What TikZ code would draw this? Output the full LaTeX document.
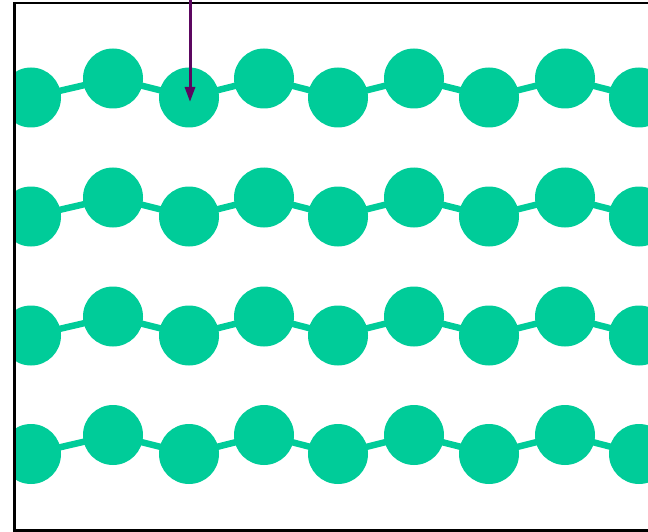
\documentclass[tikz,border=0pt]{standalone}
\usetikzlibrary{arrows.meta}
\definecolor{bead}{RGB}{0,204,153}
\definecolor{pointer}{RGB}{92,6,96}
\tikzset{
  beadnode/.style={circle,fill=bead,draw=none,minimum size=60pt,inner sep=0pt},
  link/.style={draw=bead,line width=6.5pt,shorten <=-1pt,shorten >=-1pt},
  frame/.style={draw=black,line width=2.7pt},
  pointerarrow/.style={draw=pointer,line width=3pt,-{Triangle[length=15pt,width=10pt]}}
}
\begin{document}
\begin{tikzpicture}[x=1pt,y=-1pt]
\useasboundingbox (0,0) rectangle (648,532);
\begin{scope}
\clip (15.5,0) rectangle (648,532);
% rows of beads
\foreach \r/\lo/\hi in {1/97.5/78.5,2/216.5/197.5,3/335.5/316.5,4/454/435}{
  \node[beadnode] (r\r c1) at (31,\lo) {};
  \node[beadnode] (r\r c2) at (113,\hi) {};
  \node[beadnode] (r\r c3) at (189,\lo) {};
  \node[beadnode] (r\r c4) at (264,\hi) {};
  \node[beadnode] (r\r c5) at (338,\lo) {};
  \node[beadnode] (r\r c6) at (414,\hi) {};
  \node[beadnode] (r\r c7) at (489,\lo) {};
  \node[beadnode] (r\r c8) at (565,\hi) {};
  \node[beadnode] (r\r c9) at (639,\lo) {};
  \foreach \a/\b in {1/2,2/3,3/4,4/5,5/6,6/7,7/8,8/9}{
    \draw[link] (r\r c\a) -- (r\r c\b);
  }
}
\end{scope}
% frame (right side lies beyond the picture)
\draw[frame] (670,3) -- (14.7,3) -- (14.7,530.5) -- (670,530.5);
% pointer arrow
\coordinate (ptop) at (190,-5);
\coordinate (ptip) at (190,102);
\draw[pointerarrow] (ptop) -- (ptip);
\end{tikzpicture}
\end{document}
